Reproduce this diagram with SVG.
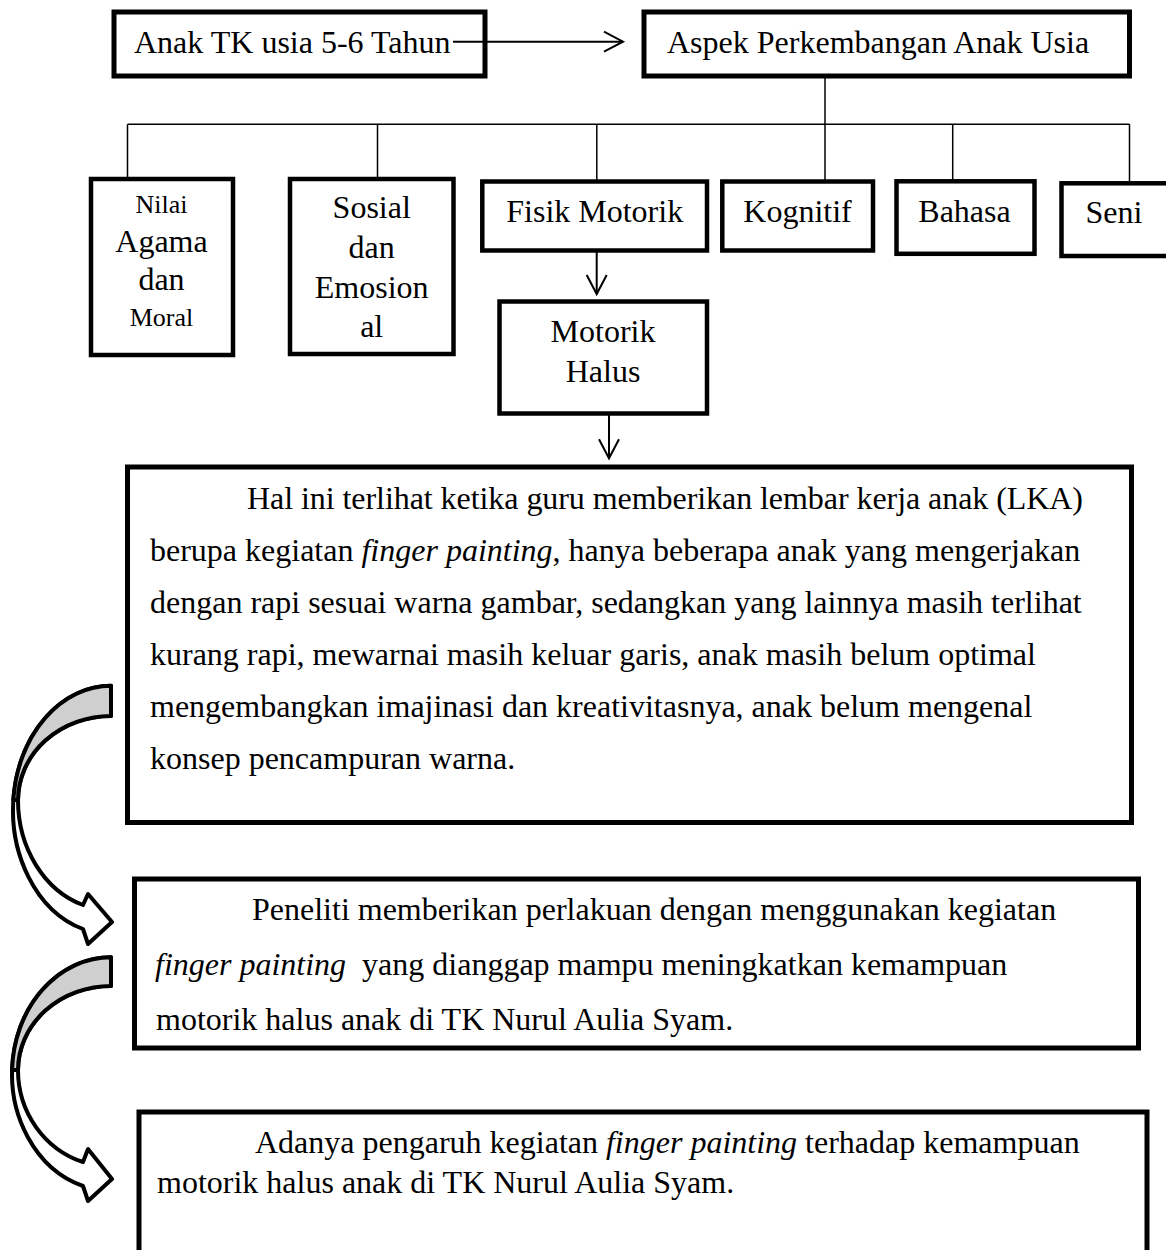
<svg xmlns="http://www.w3.org/2000/svg" width="1166" height="1250" viewBox="0 0 1166 1250">
<style>
.box{fill:#fff;stroke:#000;stroke-width:4.5}
.tbox{fill:#fff;stroke:#000;stroke-width:5}
.t{font-family:"Liberation Serif","Times New Roman",serif;font-size:32px;fill:#000}
.s{font-size:26px}
.c{text-anchor:middle}
.i{font-style:italic}
.ln{stroke:#000;stroke-width:1.5;fill:none}
.ar{stroke:#000;stroke-width:2;fill:none}
.cv{fill:#fff;stroke:#000;stroke-width:4;stroke-linejoin:round}
.cvb{fill:#cfcfcf;stroke:#000;stroke-width:4;stroke-linejoin:round}
</style>
<defs>
<marker id="oa" markerUnits="userSpaceOnUse" markerWidth="26" markerHeight="26" viewBox="-23 -13 26 26" refX="0" refY="0" orient="auto">
<path d="M-19,-10 L0,0 L-19,10" fill="none" stroke="#000" stroke-width="2"/>
</marker>
</defs>
<rect width="1166" height="1250" fill="#fff"/>

<g id="n-anak">
<rect class="box" x="114" y="12" width="371" height="64" style="stroke-width:5"/>
<text class="t" x="134" y="53">Anak TK usia 5-6 Tahun</text>
</g>
<g id="n-aspek">
<rect class="box" x="644" y="12" width="485.5" height="64" style="stroke-width:5"/>
<text class="t" x="667" y="53">Aspek Perkembangan Anak Usia</text>
</g>
<g id="n-nilai">
<rect class="box" x="91" y="179" width="142" height="176"/>
<text class="t s c" x="161.5" y="213.3">Nilai</text>
<text class="t c" x="161.5" y="251.7">Agama</text>
<text class="t c" x="161.5" y="290">dan</text>
<text class="t s c" x="161.5" y="326">Moral</text>
</g>
<g id="n-sosial">
<rect class="box" x="290" y="179" width="163.5" height="175"/>
<text class="t c" x="371.7" y="218.3">Sosial</text>
<text class="t c" x="371.7" y="258.3">dan</text>
<text class="t c" x="371.7" y="298.3">Emosion</text>
<text class="t c" x="371.7" y="336.7">al</text>
</g>
<g id="n-fisik">
<rect class="box" x="482.3" y="181.5" width="224.7" height="69"/>
<text class="t c" x="594.7" y="221.7">Fisik Motorik</text>
</g>
<g id="n-kognitif">
<rect class="box" x="722.3" y="181.5" width="150.7" height="69"/>
<text class="t c" x="797.5" y="221.7">Kognitif</text>
</g>
<g id="n-bahasa">
<rect class="box" x="896.5" y="181.3" width="138" height="72.5"/>
<text class="t c" x="964.5" y="221.7">Bahasa</text>
</g>
<g id="n-seni">
<rect class="box" x="1061.5" y="183.3" width="110" height="72.7"/>
<text class="t c" x="1114" y="223">Seni</text>
</g>
<g id="n-motorik-halus">
<rect class="box" x="499.5" y="301.5" width="207.5" height="112"/>
<text class="t c" x="603" y="341.7">Motorik</text>
<text class="t c" x="603" y="381.7">Halus</text>
</g>
<g id="n-masalah">
<rect class="tbox" x="127.5" y="467" width="1004" height="355.5"/>
<text class="t" x="247" y="509" textLength="836" lengthAdjust="spacing">Hal ini terlihat ketika guru memberikan lembar kerja anak (LKA)</text>
<text class="t" x="150" y="561">berupa kegiatan <tspan class="i">finger painting</tspan>, hanya beberapa anak yang mengerjakan</text>
<text class="t" x="150" y="613">dengan rapi sesuai warna gambar, sedangkan yang lainnya masih terlihat</text>
<text class="t" x="150" y="665">kurang rapi, mewarnai masih keluar garis, anak masih belum optimal</text>
<text class="t" x="150" y="717">mengembangkan imajinasi dan kreativitasnya, anak belum mengenal</text>
<text class="t" x="150" y="769">konsep pencampuran warna.</text>
</g>
<g id="n-perlakuan">
<rect class="tbox" x="134.5" y="879" width="1004" height="169"/>
<text class="t" x="252" y="920">Peneliti memberikan perlakuan dengan menggunakan kegiatan</text>
<text class="t" x="155" y="975"><tspan class="i">finger painting</tspan><tspan dx="8"> yang dianggap mampu meningkatkan kemampuan</tspan></text>
<text class="t" x="156" y="1030">motorik halus anak di TK Nurul Aulia Syam.</text>
</g>
<g id="n-hasil">
<rect class="tbox" x="139" y="1112" width="1008" height="160"/>
<text class="t" x="255" y="1153">Adanya pengaruh kegiatan <tspan class="i">finger painting</tspan> terhadap kemampuan</text>
<text class="t" x="157" y="1193">motorik halus anak di TK Nurul Aulia Syam.</text>
</g>

<g id="connectors">
<path class="ar" d="M453,41.7 H623" marker-end="url(#oa)"/>
<path class="ln" d="M825,76 V181.5"/>
<path class="ln" d="M127.5,124.3 H1129.5"/>
<path class="ln" d="M127.5,124.3 V179 M377.5,124.3 V179 M596.8,124.3 V181.5 M952.7,124.3 V181.3 M1129.5,124.3 V183.3"/>
<path class="ar" d="M596.7,250 V294" marker-end="url(#oa)"/>
<path class="ar" d="M609,414 V458.3" marker-end="url(#oa)"/>
<g id="curved-arrow-1">
<path class="cv" d="M111,685.8 A98,124.2 0 0 0 83,929 L88,944 L112,922 L88,894 L83,905 A93,110 0 0 1 18,800 A93,84 0 0 1 111,716 Z"/>
<path class="cvb" d="M111,685.8 A98,124.2 0 0 0 13.3,800 L18,800 A93,84 0 0 1 111,716 Z"/>
</g>
<g id="curved-arrow-2">
<path class="cv" d="M111,957.2 A99,116.8 0 0 0 83,1186 L88,1201 L112,1179 L88,1149 L83,1162 A93,96.5 0 0 1 18,1070 A93,84 0 0 1 111,986 Z"/>
<path class="cvb" d="M111,957.2 A99,116.8 0 0 0 12.06,1070 L18,1070 A93,84 0 0 1 111,986 Z"/>
</g>
</g>
</svg>
